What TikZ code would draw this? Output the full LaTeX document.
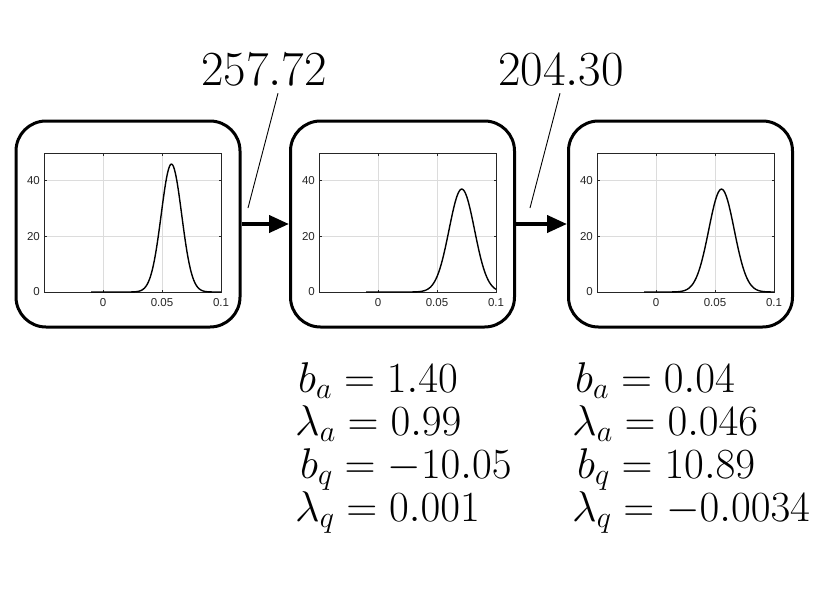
\RequirePackage{fix-cm}
\documentclass[tikz,border=0pt]{standalone}
\usepackage[no-math]{fontspec}
\newfontfamily\tickfont{Liberation Sans}
\usetikzlibrary{arrows.meta}
\definecolor{axcol}{HTML}{262626}
\definecolor{gridcol}{HTML}{DCDCDC}
\tikzset{
 panel/.style={draw, line width=3pt, rounded corners=30pt, minimum width=224pt, minimum height=206pt, inner sep=0pt},
 frame/.style={draw=axcol, line width=0.8pt},
 gridl/.style={draw=gridcol, line width=0.8pt},
 tickl/.style={draw=axcol, line width=0.8pt},
 curve/.style={line width=1.4pt},
 flow/.style={line width=4pt, -{Triangle[length=20pt,width=17pt]}},
 leader/.style={line width=0.9pt},
 ticklab/.style={font=\tickfont\fontsize{11.5}{12}\selectfont, text=axcol, inner sep=0pt},
 biglab/.style={font=\fontsize{49}{54}\selectfont, inner sep=0pt, anchor=base},
 param/.style={font=\fontsize{43}{46}\selectfont, inner sep=0pt, anchor=base west},
}
\begin{document}
\begin{tikzpicture}[x=1pt,y=-1pt]
\fill[white] (0,0) rectangle (830,595);
\useasboundingbox (0,0) rectangle (830,595);
\foreach \n/\cx/\al/\mm/\sg/\pk in {1/128/44/0.058/0.00867/46, 2/402.5/319/0.071/0.01078/37, 3/680.5/597/0.0555/0.01078/37}{
  \node[panel] (p\n) at (\cx,224) {};
  \pgfmathsetmacro{\xz}{\al+59}
  \pgfmathsetmacro{\xf}{\al+118}
  \pgfmathsetmacro{\xr}{\al+177}
  \pgfmathsetmacro{\xm}{\al+(\mm+0.05)*1180}
  \pgfmathsetmacro{\xs}{\sg*1180}
  \pgfmathsetmacro{\te}{(0.1-\mm)/\sg}
  \pgfmathsetmacro{\hp}{2.78*\pk}
  % grid
  \draw[gridl] (\xz,153) -- (\xz,292);
  \draw[gridl] (\xf,153) -- (\xf,292);
  \draw[gridl] (\al,236.4) -- (\xr,236.4);
  \draw[gridl] (\al,180.8) -- (\xr,180.8);
  % ticks
  \foreach \tx in {\xz,\xf}{
    \draw[tickl] (\tx,292) -- (\tx,289.5);
    \draw[tickl] (\tx,153) -- (\tx,155.5);
  }
  \foreach \ty in {236.4,180.8}{
    \draw[tickl] (\al,\ty) -- (\al+2.5,\ty);
    \draw[tickl] (\xr,\ty) -- (\xr-2.5,\ty);
  }
  \draw[frame] (\al,153) rectangle (\xr,292);
  % curve
  \draw[curve] (\al+47.2,292) -- plot[domain=-4.5:\te, samples=120, smooth] ({\xm+\xs*\x},{292-\hp*exp(-\x*\x/2)});
  % tick labels
  \node[ticklab, anchor=east] (yl0\n) at (\al-4,292) {0};
  \node[ticklab, anchor=east] (yl20\n) at (\al-4,236.4) {20};
  \node[ticklab, anchor=east] (yl40\n) at (\al-4,180.8) {40};
  \node[ticklab] (xl0\n) at (\xz,303) {0};
  \node[ticklab] (xl5\n) at (\xf,303) {0.05};
  \node[ticklab] (xl10\n) at (\xr,303) {0.1};
}
\draw[flow] (p1.east) -- (p2.west);
\draw[flow] (p2.east) -- (p3.west);
\node[biglab] (l1) at (264,85) {$257.72$};
\node[biglab] (l2) at (561,85) {$204.30$};
\coordinate (c1) at (248,208);
\coordinate (c2) at (530,208);
\draw[leader] ([xshift=14pt,yshift=-8pt]l1.south) -- (c1);
\draw[leader] ([xshift=-1pt,yshift=-8pt]l2.south) -- (c2);
\node[param] (ba1) at (298,392) {$b_a = 1.40$};
\node[param] (la1) at (295,435) {$\lambda_a = 0.99$};
\node[param] (bq1) at (300,478) {$b_q = -10.05$};
\node[param] (lq1) at (295,521) {$\lambda_q = 0.001$};
\node[param] (ba2) at (575,392) {$b_a = 0.04$};
\node[param] (la2) at (572,435) {$\lambda_a = 0.046$};
\node[param] (bq2) at (577,478) {$b_q = 10.89$};
\node[param] (lq2) at (572,521) {$\lambda_q = -0.0034$};
\end{tikzpicture}
\end{document}
